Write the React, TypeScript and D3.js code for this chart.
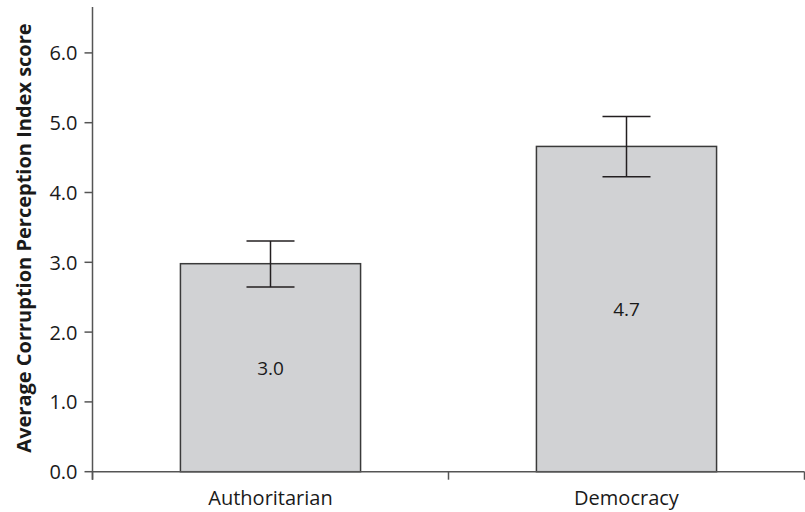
import React from "react";
import * as d3 from "d3";

const categories = ["Authoritarian", "Democracy"];
const means = [2.98, 4.66];
const errLow = [2.645, 4.225];
const errHigh = [3.305, 5.09];
const valueLabels = ["3.0", "4.7"];
const yTicks = [0, 1, 2, 3, 4, 5, 6];
const yTitle = "Average Corruption Perception Index score";

const W = 805;
const H = 512;
const left = 92.5;
const right = 804.5;
const bottom = 471.7;
const top = 7;
const FONT = "'Open Sans', 'DejaVu Sans', sans-serif";

export default function App() {
  const y = d3.scaleLinear().domain([0, 6]).range([bottom, bottom - 6 * 69.8]);
  const yMaxVal = y.invert(top);
  const yS = d3.scaleLinear().domain([0, yMaxVal]).range([bottom, top]);
  const x = d3
    .scaleBand<string>()
    .domain(categories)
    .range([left, right])
    .paddingInner(0.494)
    .paddingOuter(0.247);
  const step = x.step();
  const boundaries = d3.range(categories.length + 1).map((i) => left + i * step);
  const capHalf = 24;

  return (
    <svg width={W} height={H} style={{ position: "absolute", left: 0, top: 0 }}>
      <rect x={0} y={0} width={W} height={H} fill="#fff" />
      {categories.map((c, i) => {
        const bx = x(c)!;
        const bw = x.bandwidth();
        const yt = yS(means[i]);
        return (
          <g key={c}>
            <rect x={bx} y={yt} width={bw} height={bottom - yt} fill="#d1d2d4" stroke="#3a3a3a" strokeWidth={1.5} />
            <text
              x={bx + bw / 2}
              y={(yt + bottom) / 2}
              textAnchor="middle"
              dominantBaseline="central"
              fontFamily={FONT}
              fontSize={19}
              fill="#1a1a1a"
            >
              {valueLabels[i]}
            </text>
          </g>
        );
      })}
      {categories.map((c, i) => {
        const cx = x(c)! + x.bandwidth() / 2;
        const y1 = yS(errHigh[i]);
        const y2 = yS(errLow[i]);
        return (
          <g key={"e" + c} stroke="#231f20" strokeWidth={1.5}>
            <line x1={cx} x2={cx} y1={y1} y2={y2} />
            <line x1={cx - capHalf} x2={cx + capHalf} y1={y1} y2={y1} />
            <line x1={cx - capHalf} x2={cx + capHalf} y1={y2} y2={y2} />
          </g>
        );
      })}
      <line x1={left} x2={left} y1={top} y2={bottom + 8} stroke="#555" strokeWidth={1.5} />
      {yTicks.map((t) => (
        <g key={t}>
          <line x1={left - 8} x2={left} y1={yS(t)} y2={yS(t)} stroke="#555" strokeWidth={1.5} />
          <text
            x={left - 15}
            y={yS(t)}
            textAnchor="end"
            dominantBaseline="central"
            fontFamily={FONT}
            fontSize={20}
            fill="#1a1a1a"
          >
            {t.toFixed(1)}
          </text>
        </g>
      ))}
      <line x1={left} x2={right} y1={bottom} y2={bottom} stroke="#555" strokeWidth={1.5} />
      {boundaries.map((b, i) => (
        <line key={i} x1={b} x2={b} y1={bottom} y2={bottom + 8} stroke="#555" strokeWidth={1.5} />
      ))}
      {categories.map((c) => (
        <text
          key={"l" + c}
          x={x(c)! + x.bandwidth() / 2}
          y={497}
          textAnchor="middle"
          dominantBaseline="central"
          fontFamily={FONT}
          fontSize={20}
          fill="#1a1a1a"
        >
          {c}
        </text>
      ))}
      <text
        transform={`translate(23,${238}) rotate(-90)`}
        textAnchor="middle"
        dominantBaseline="central"
        fontFamily={FONT}
        fontSize={20}
        fontWeight="bold"
        fill="#1a1a1a"
      >
        {yTitle}
      </text>
    </svg>
  );
}
